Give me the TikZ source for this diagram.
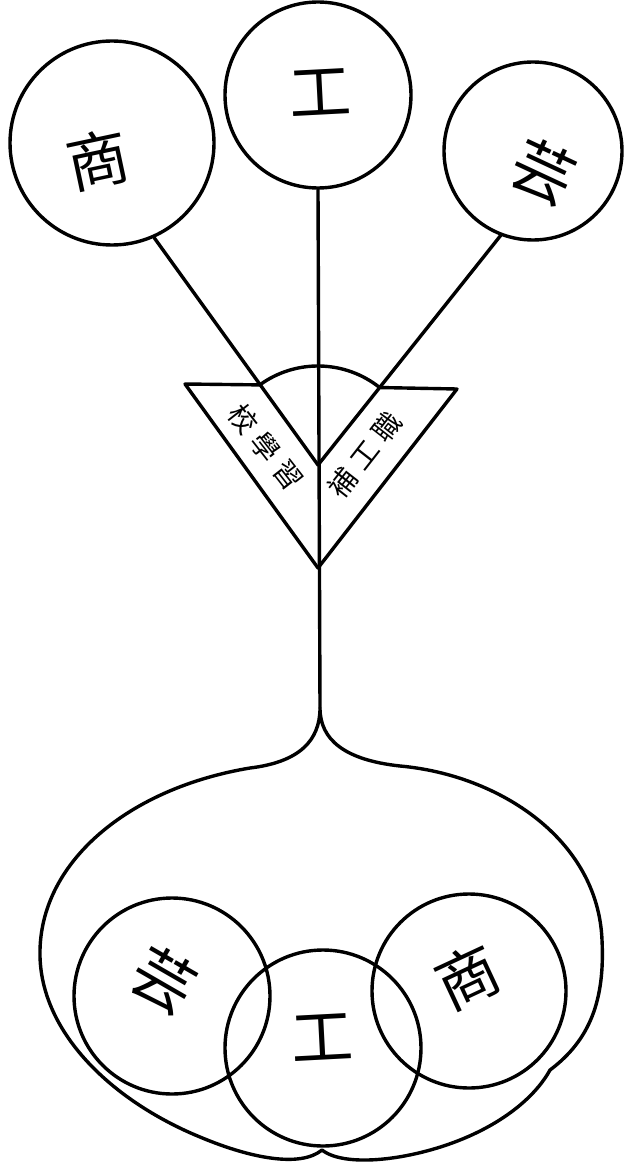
\documentclass[tikz,border=0pt]{standalone}
\usepackage{fontspec}
\newfontfamily\cjk{Noto Sans CJK TC}
\begin{document}
\begin{tikzpicture}[x=1pt,y=-1pt,
  ring/.style={draw,circle,line width=3.4pt,inner sep=0pt},
  bigchar/.style={font=\cjk\fontsize{62}{62}\selectfont,inner sep=0pt},
  bandchar/.style={font=\cjk\fontsize{28}{28}\selectfont,inner sep=0pt},
  stroke/.style={line width=3.4pt,line join=round,line cap=round}]

\useasboundingbox (0,0) rectangle (626,1166);

% Coordinates
\coordinate (hub) at (318,465);
\coordinate (apex) at (318,568);
\coordinate (tl) at (185,384);
\coordinate (tr) at (457,389);
\coordinate (fanL) at (259.8,384.9);
\coordinate (fanR) at (379.6,387.5);
\coordinate (fork) at (320,708);
\coordinate (cusp) at (322,1150);

% Upper circles
\node[ring,minimum size=204pt] (commT) at (112,143) {};
\node[ring,minimum size=186pt] (indT) at (318,95) {};
\node[ring,minimum size=178pt] (artsT) at (533,151) {};

\node[bigchar,rotate=12] (commTtxt) at (98,160) {商};
\node[bigchar,rotate=3] (indTtxt) at (320,92) {工};
\node[bigchar,rotate=-25] (artsTtxt) at (543,172) {芸};

% Lower circles
\node[ring,minimum size=196pt] (artsB) at (172,996) {};
\node[ring,minimum size=196pt] (indB) at (323,1048) {};
\node[ring,minimum size=194pt] (commB) at (469,991) {};

\node[bigchar,rotate=-30] (artsBtxt) at (164,980) {芸};
\node[bigchar,rotate=3] (indBtxt) at (322,1037) {工};
\node[bigchar,rotate=25] (commBtxt) at (468,977) {商};

% Lines to the fan
\draw[stroke] (commT.-66) -- (hub);
\draw[stroke] (artsT.249) -- (hub);
\draw[stroke] (indT.south) -- (fork);

% Fan
\draw[stroke] (tl) -- (fanL)
  arc[start angle=-126,end angle=-51.5,radius=99] -- (tr) -- (apex) -- cycle;

% Band texts
\node[bandchar,rotate=-52] (bandL) at (266,447) {校\hspace{8pt}學\hspace{8pt}習};
\node[bandchar,rotate=52] (bandR) at (365,455) {補\hspace{8pt}工\hspace{8pt}職};

% Outline
\draw[stroke] (fork)
  .. controls (320,740) and (300,762) .. (250,768)
  .. controls (130,788) and (42,860) .. (40,950)
  .. controls (38,1030) and (110,1100) .. (200,1137)
  .. controls (250,1158) and (300,1168) .. (cusp)
  .. controls (345,1168) and (410,1160) .. (460,1140)
  .. controls (510,1120) and (538,1092) .. (550,1070)
  .. controls (590,1040) and (605,1000) .. (602,940)
  .. controls (598,840) and (500,775) .. (400,766)
  .. controls (345,760) and (320,740) .. (fork);

\end{tikzpicture}
\end{document}
